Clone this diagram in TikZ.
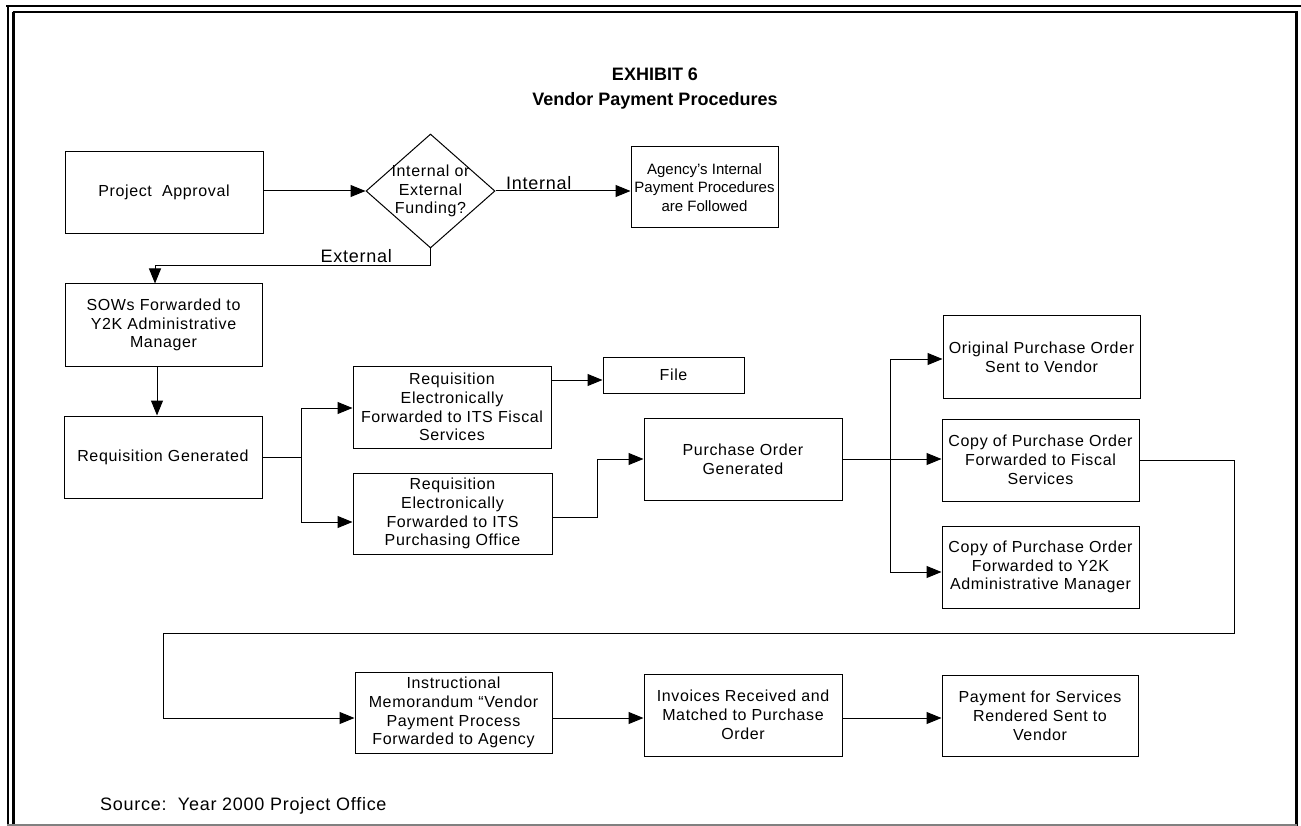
\documentclass[tikz,border=0pt]{standalone}
\usepackage{fontspec}
\setmainfont{Liberation Sans}
\newfontfamily\boxfont{Liberation Sans}[LetterSpace=4]
\newfontfamily\plainfont{Liberation Sans}
\usetikzlibrary{arrows.meta,shapes.geometric}

\begin{document}
\begin{tikzpicture}[x=1pt,y=-1pt,
  box/.style={draw, line width=1pt, align=center, inner sep=1pt,
    minimum width=198pt, minimum height=82pt,
    font=\boxfont\fontsize{16pt}{18.8pt}\selectfont},
  flow/.style={line width=1pt},
  arr/.style={flow, -{Triangle[length=15pt,width=12pt]}},
  lbl/.style={font=\boxfont\fontsize{18pt}{20pt}\selectfont, inner sep=0pt},
  frame/.style={line width=2.4pt},
]
\useasboundingbox (0,0) rectangle (1301,826);

% double frame round the page
\draw[frame] (6,6) -- (1301,6);
\draw[frame] (7.8,6) -- (7.8,826);
\draw[line width=2pt] (12.5,12.5) -- (1297.5,12.5);
\draw[frame] (13.5,12) -- (13.5,826);
\draw[frame] (1296.3,12) -- (1296.3,826);
\draw[line width=1.5pt, gray] (7,825.2) -- (1297,825.2);

% heading
\node[font=\plainfont\bfseries\fontsize{18pt}{25pt}\selectfont, align=center]
  (title) at (655,89) {EXHIBIT 6\\Vendor Payment Procedures};

% first row
\node[box] (pa) at (164,192.5) {Project\ \ Approval};
\node[draw, line width=1pt, diamond, minimum width=129pt, minimum height=114pt,
  inner sep=0pt] (dec) at (430.5,191) {};
\node[font=\boxfont\fontsize{16pt}{18.3pt}\selectfont, align=center, inner sep=0pt]
  (dectext) at (dec.center) {Internal or\\External\\Funding?};
\node[box, minimum width=147pt, minimum height=81pt,
  font=\plainfont\fontsize{15pt}{18.8pt}\selectfont] (ag) at (704.5,187.5)
  {Agency’s Internal\\Payment Procedures\\are Followed};

% left column
\node[box, minimum width=197pt] (sow) at (163.5,325) {SOWs Forwarded to\\Y2K Administrative\\Manager};
\node[box] (rg) at (163,457) {Requisition Generated};

% requisitions
\node[box] (rf) at (452,407) {Requisition\\Electronically\\Forwarded to ITS Fiscal\\Services};
\node[box, minimum width=199pt, minimum height=81pt] (rp) at (452.5,513.5)
  {Requisition\\Electronically\\Forwarded to ITS\\Purchasing Office};
\node[box, minimum width=141pt, minimum height=36pt] (file) at (673.5,375) {File};
\node[box] (po) at (743,459) {Purchase Order\\Generated};

% purchase order copies
\node[box, minimum width=197pt] (op) at (1041.5,357) {Original Purchase Order\\Sent to Vendor};
\node[box, minimum width=197pt] (cf) at (1040.5,460) {Copy of Purchase Order\\Forwarded to Fiscal\\Services};
\node[box, minimum width=197pt] (cy) at (1040.5,567) {Copy of Purchase Order\\Forwarded to Y2K\\Administrative Manager};

% bottom row
\node[box, minimum width=197pt, minimum height=81pt] (im) at (453.5,712.5)
  {Instructional\\Memorandum “Vendor\\Payment Process\\Forwarded to Agency};
\node[box] (inv) at (743,715) {Invoices Received and\\Matched to Purchase\\Order};
\node[box, minimum width=196pt, minimum height=81pt] (pay) at (1040,715.5)
  {Payment for Services\\Rendered Sent to\\Vendor};

% footnote
\node[font=\boxfont\fontsize{18pt}{20pt}\selectfont, anchor=base west, inner sep=0pt]
  (src) at (100,810) {Source:\ \ Year 2000 Project Office};

% decision connectors
\draw[arr] (pa.east |- dec.west) -- (dec.west);
\draw[arr] (dec.east) -- (dec.east -| ag.west);
\node[lbl, anchor=base west] (lint) at (506,190) {Internal};
\coordinate (ext) at (155,266);
\draw[arr] (dec.south) |- (ext) -- (ext |- sow.north);
\node[lbl, anchor=base east] (lext) at (392,263) {External};

% left column connectors
\draw[arr] ([xshift=-6.5pt]sow.south) -- ([xshift=-6pt]rg.north);
\coordinate (br) at (301,457);
\draw[flow] (rg.east) -- (br);
\draw[arr] (br) |- ([yshift=-1pt]rf.west);
\draw[arr] (br) |- ([yshift=-8.5pt]rp.west);
\draw[arr] ([yshift=27pt]rf.east) -- ([yshift=27pt]rf.east -| file.west);
\draw[arr] ([yshift=-3.5pt]rp.east) -| (597,459) -- (po.west);

% fan-out to the copies
\coordinate (pb) at (890,459);
\draw[flow] (po.east) -- (pb);
\draw[arr] (pb) |- ([yshift=-2pt]op.west);
\draw[arr] (pb) -- (pb -| cf.west);
\draw[arr] (pb) |- ([yshift=-5pt]cy.west);

% loop back to the bottom row
\coordinate (lp1) at (1234,633);
\coordinate (lp2) at (163,633);
\draw[arr] (cf.east) -| (lp1) -- (lp2) |- ([yshift=-5.5pt]im.west);
\draw[arr] ([yshift=-5.5pt]im.east) -- ([yshift=-5.5pt]im.east -| inv.west);
\draw[arr] ([yshift=-3pt]inv.east) -- ([yshift=-3pt]inv.east -| pay.west);
\end{tikzpicture}
\end{document}
